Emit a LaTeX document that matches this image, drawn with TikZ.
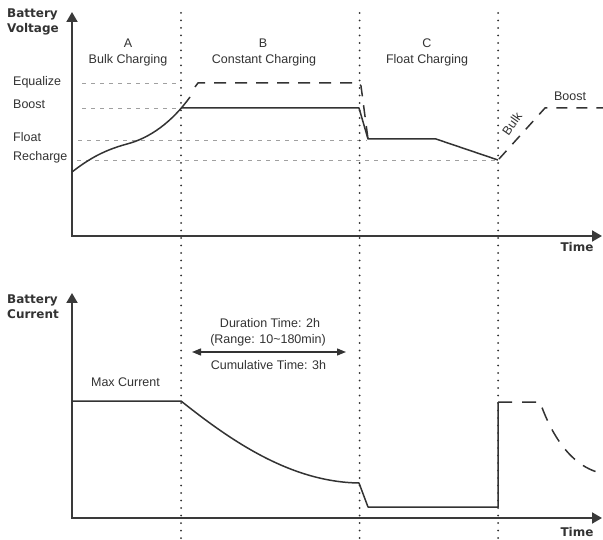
\documentclass[tikz,border=0pt]{standalone}
\usepackage{fontspec}
\setmainfont{Liberation Sans}
\newfontfamily\boldlab{DejaVu Sans}
\usetikzlibrary{arrows.meta}
\definecolor{textc}{HTML}{333333}
\definecolor{linec}{HTML}{333333}
\definecolor{axisc}{HTML}{3A3A3A}
\definecolor{guidec}{HTML}{A0A0A0}
\definecolor{dotc}{HTML}{303030}
\begin{document}
\begin{tikzpicture}[x=1pt,y=-1pt,
  txt/.style={text=textc, font=\fontsize{12.5}{14}\selectfont, inner sep=0pt},
  blab/.style={text=textc, font=\boldlab\bfseries\fontsize{12}{15}\selectfont, inner sep=0pt, align=left},
  axisline/.style={draw=axisc, line width=1.9pt, {Triangle[length=10pt,width=11pt]}-{Triangle[length=10pt,width=11pt]}},
  curveline/.style={draw=linec, line width=1.5pt, line join=round},
  dashcurve/.style={curveline, dash pattern=on 12pt off 9pt},
  guideline/.style={draw=guidec, line width=0.9pt, dash pattern=on 4pt off 5pt},
  phaseline/.style={draw=dotc, line width=2pt, line cap=round, dash pattern=on 0pt off 7.5pt},
  dimarrow/.style={draw=linec, line width=1.4pt, {Triangle[length=9pt,width=7pt]}-{Triangle[length=9pt,width=7pt]}}
]
\useasboundingbox (0,0) rectangle (603,540);
\fill[white] (0,0) rectangle (603,540);

% ---------- coordinates ----------
% top chart axes
\coordinate (Yt) at (72,12);
\coordinate (Ot) at (72,236);
\coordinate (Xt) at (602,236);
% bottom chart axes
\coordinate (Yb) at (72,293);
\coordinate (Ob) at (72,518);
\coordinate (Xb) at (602,518);
% phase separators
\coordinate (s1t) at (181,13);   \coordinate (s1b) at (181,540);
\coordinate (s2t) at (359.5,13); \coordinate (s2b) at (359.5,540);
\coordinate (s3t) at (498,13);   \coordinate (s3b) at (498,540);
% guide levels
\coordinate (eqL) at (82,83);  \coordinate (eqR) at (181,83);
\coordinate (boL) at (82,108); \coordinate (boR) at (181,108);
\coordinate (flL) at (78,140); \coordinate (flR) at (367,140);
\coordinate (reL) at (77,160); \coordinate (reR) at (498,160);

% voltage curve points
\coordinate (v0) at (72,172);
\coordinate (v1) at (127,144);
\coordinate (v2) at (190,97);
\coordinate (vb0) at (181,108);
\coordinate (vb1) at (359,108);
\coordinate (vc0) at (368,139);
\coordinate (vc1) at (436,139);
\coordinate (vc2) at (498,160);
% equalize dashed
\coordinate (e0) at (195,87);
\coordinate (e1) at (198,83);
\coordinate (e2) at (359,83);
\coordinate (e3) at (361,86);
\coordinate (e4) at (368,139);
% next cycle voltage
\coordinate (n0) at (499,159);
\coordinate (n1) at (545,108);
\coordinate (n2) at (603,108);

% current curve points
\coordinate (c0) at (72,401);
\coordinate (c1) at (181,401);
\coordinate (c2) at (359,483);
\coordinate (c3) at (368,507);
\coordinate (c4) at (498,507);
\coordinate (c5) at (498,402);
\coordinate (c6) at (540,402);
\coordinate (c7) at (597,472);
% duration arrow
\coordinate (dL) at (192,352);
\coordinate (dR) at (346,352);

% ---------- guides ----------
\draw[guideline] (eqL) -- (eqR);
\draw[guideline] (boL) -- (boR);
\draw[guideline] (flL) -- (flR);
\draw[guideline] (reL) -- (reR);

% ---------- phase separators ----------
\draw[phaseline] (s1t) -- (s1b);
\draw[phaseline] (s2t) -- (s2b);
\draw[phaseline] (s3t) -- (s3b);

% ---------- axes ----------
\draw[axisline] (Yt) -- (Ot) -- (Xt);
\draw[axisline] (Yb) -- (Ob) -- (Xb);

% ---------- voltage curve ----------
\draw[curveline] (v0) .. controls (90,158) and (105,150) .. (v1)
                      .. controls (150,138) and (172,122) .. (v2);
\draw[curveline] (vb0) -- (vb1) -- (vc0) -- (vc1) -- (vc2);
\draw[dashcurve] (e0) -- (e1) -- (e2) -- (e3) -- (e4);
\draw[dashcurve, dash pattern=on 11pt off 9pt] (n0) -- (n1) -- (n2);

% ---------- current curve ----------
\draw[curveline] (c0) -- (c1) .. controls (230,440) and (290,482) .. (c2)
                 -- (c3) -- (c4) -- (c5);
\draw[dashcurve, dash pattern=on 14pt off 10pt] (c5) -- (c6)
                 .. controls (548,425) and (565,462) .. (c7);
\draw[dimarrow] (dL) -- (dR);

% ---------- labels ----------
\node[blab, anchor=west] (lv) at (7,21.5) {Battery\\Voltage};
\node[blab, anchor=west] (lc) at (7,306.5) {Battery\\Current};
\node[blab] (tt) at (577,247) {Time};
\node[blab] (tb) at (577,532) {Time};

\node[txt] (pa) at (128,43) {A};
\node[txt] (pan) at (128,60) {Bulk Charging};
\node[txt] (pb) at (263,43) {B};
\node[txt] (pbn) at (264,60) {Constant Charging};
\node[txt] (pc) at (427,43) {C};
\node[txt] (pcn) at (427,60) {Float Charging};

\node[txt, anchor=west] (leq) at (13,82) {Equalize};
\node[txt, anchor=west] (lbo) at (13,104) {Boost};
\node[txt, anchor=west] (lfl) at (13,137) {Float};
\node[txt, anchor=west] (lre) at (13,157) {Recharge};

\node[txt, rotate=55] (lbulk) at (512,124) {Bulk};
\node[txt] (lboost) at (570,96) {Boost};

\node[txt] (lmax) at (125.5,382) {Max Current};
\node[txt] (ld1) at (270,323) {Duration Time: 2h};
\node[txt] (ld2) at (268,340) {(Range: 10\textasciitilde180min)};
\node[txt] (ld3) at (268.5,365) {Cumulative Time: 3h};
\end{tikzpicture}
\end{document}
